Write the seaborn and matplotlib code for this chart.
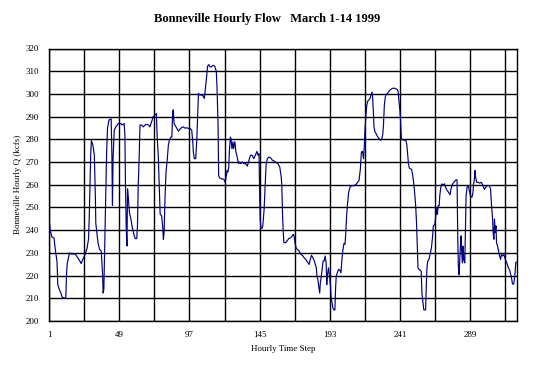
import numpy as np
import matplotlib
matplotlib.use("Agg")
import matplotlib.pyplot as plt
import seaborn as sns

# ---- data ----
title = "Bonneville Hourly Flow   March 1-14 1999"
x_label = "Hourly Time Step"
y_label = "Bonneville Hourly Q (kcfs)"

hours = [
    1, 2, 3, 4.5, 5, 6.5, 7, 8, 9, 10,
    12, 12.5, 13, 13.5, 15, 16, 19, 20, 22, 23,
    24, 25.5, 27, 28, 28.5, 29, 29.5, 30, 31, 32,
    32.7, 33, 34.5, 35.6, 36.7, 37.6, 38, 38.5, 39, 39.7,
    40.4, 41, 42, 43.5, 44, 44.4, 44.8, 45.6, 46.7, 48.5,
    50, 51, 52.4, 52.9, 53.3, 53.8, 54.3, 54.7, 55.2, 56,
    57, 58, 59.3, 60, 61, 61.5, 62, 62.7, 63.2, 64.3,
    65.5, 66.6, 67.8, 69, 70, 71.2, 72.3, 73.5, 74.4, 75,
    75.7, 76.4, 77, 78, 78.7, 79.2, 79.7, 80.3, 81, 81.9,
    82.6, 83.3, 84.4, 85, 85.6, 86, 86.5, 87.1, 88.3, 89.5,
    90.6, 91.7, 92.9, 94, 95.2, 96.3, 97.5, 98.6, 99.3, 99.7,
    100.4, 101.3, 102, 102.7, 103.2, 104, 106, 107.2, 108.8, 109.4,
    110.3, 111, 112, 113.2, 114.3, 115.4, 115.9, 116.6, 117, 117.7,
    118.8, 120.6, 121.4, 122.1, 122.8, 123.3, 123.9, 124.3, 125, 125.4,
    126.1, 126.8, 127.2, 128.1, 128.8, 129.4, 130.1, 130.8, 131.4, 132.1,
    133.2, 134.3, 135.4, 136.6, 137.7, 138.8, 139.9, 141, 142.1, 143.2,
    143.9, 144.6, 145, 145.4, 145.9, 146.6, 147.2, 148.1, 148.8, 149.4,
    150.3, 151.4, 152.6, 153.9, 155.4, 156.5, 157.5, 158.8, 159.8, 160.2,
    160.7, 161.2, 161.6, 162.8, 164, 165, 166.2, 167.4, 168, 168.5,
    169.2, 169.9, 170.8, 172, 173.2, 174.3, 175.5, 176.6, 177.8, 178.9,
    179.6, 180.5, 181.5, 182.4, 183.1, 183.8, 184.2, 184.9, 185.4, 186.1,
    186.5, 187.2, 187.9, 188.4, 189.1, 189.8, 190.5, 190.9, 191.4, 192.1,
    192.8, 193.5, 193.9, 194.4, 195.1, 195.8, 196.5, 196.9, 197.4, 198.1,
    199, 199.9, 200.6, 201.3, 202, 202.7, 203.4, 203.8, 204.5, 205.2,
    205.9, 206.8, 207.8, 209.6, 211, 212.1, 213, 213.9, 214.6, 215.3,
    216.1, 216.6, 217, 217.7, 218.3, 219, 219.9, 220.6, 221.2, 221.9,
    222.3, 222.8, 223.2, 223.9, 224.6, 225.4, 226.3, 227.2, 227.9, 228.6,
    229.2, 229.7, 230.3, 231, 231.7, 232.6, 233.4, 234.3, 235.2, 236.1,
    237.2, 238.3, 239, 239.7, 240.2, 241, 241.4, 241.9, 242.3, 243.9,
    245, 245.7, 246.3, 246.8, 247.4, 248.3, 249, 249.7, 250.3, 251,
    251.7, 252.3, 252.8, 253.3, 254, 254.9, 255.5, 256, 256.6, 257.3,
    258.5, 259.1, 259.5, 260, 260.8, 261.8, 262.5, 263.2, 263.8, 264.8,
    265.5, 266.2, 266.6, 267.1, 267.8, 268.2, 268.9, 269.6, 270.5, 271.5,
    272.4, 273.3, 274.2, 275.2, 275.9, 277, 278.2, 279.3, 280, 280.5,
    280.9, 281.4, 281.9, 282.3, 282.8, 283.2, 283.7, 284.2, 284.6, 285.3,
    285.8, 286.2, 286.9, 287.8, 288.6, 289.2, 290.2, 290.9, 291.3, 291.8,
    292.3, 292.7, 293.4, 294.3, 295.5, 296.6, 297.8, 298.7, 299.6, 300.6,
    302, 302.9, 303.6, 304.3, 304.7, 305.2, 305.6, 306.1, 306.6, 307,
    307.7, 308.4, 309.1, 309.8, 310.3, 311.2, 312.1, 313, 314, 315,
    316.1, 317.2, 317.9, 318.8, 319.5, 320.2, 321,
]

flow_kcfs = [
    244.5, 239.5, 237, 236.5, 233, 226, 216, 214, 212.5, 210.5,
    210, 210.5, 221, 225.5, 230, 229.5, 229.5, 228.5, 226.5, 225.3,
    227, 229, 232, 236, 245, 259.5, 273, 279.5, 277.5, 273,
    255, 243, 234.5, 231.5, 230.8, 221, 212.3, 214, 230, 250.8,
    274.4, 284.8, 288.5, 289, 273, 250.8, 271.5, 284, 285.5, 287,
    287, 286.3, 287, 281.8, 259.6, 241, 233, 258.2, 254.5, 247.8,
    244.9, 241, 237.5, 236.3, 236.3, 242, 259.6, 273, 286.3, 286.3,
    285.5, 286.3, 286.6, 286.3, 285.5, 287.8, 290, 290.7, 291.4, 280.4,
    273, 259.6, 247, 246.3, 241.9, 236, 239, 253.7, 265.6, 271.5,
    277.4, 279.6, 281, 281, 292.2, 293, 287, 286.3, 284.8, 283.6,
    284.5, 285.2, 285.5, 284.9, 285.1, 284.8, 284.8, 284, 278.9, 274.4,
    271.5, 271.5, 278.9, 292.2, 300.3, 299.5, 299.5, 298, 307.7, 312.2,
    312.9, 311.9, 311.9, 312.6, 312.2, 310, 302.5, 286.3, 264, 263,
    262.6, 262.4, 261.1, 263.3, 266.3, 265.6, 267.8, 274.4, 281, 280.4,
    275.9, 278.9, 275.9, 278.9, 274.4, 273, 270.7, 269.3, 270, 269.3,
    270, 269.3, 269.3, 268.2, 270.7, 273, 273, 271.5, 273, 274.7,
    273, 273.7, 257.4, 244.9, 241, 240.7, 241.9, 249.3, 259.6, 268.5,
    271.5, 272.2, 271.8, 270.7, 270.3, 269.7, 269.3, 267.8, 263.3, 259.6,
    246.3, 238.9, 234.5, 234.5, 235.5, 236.3, 236.7, 237.5, 238.2, 237.5,
    234.5, 232.3, 231.5, 230.8, 229.3, 228.9, 227.8, 227.1, 225.9, 224.9,
    227.1, 228.9, 227.8, 226.4, 224.9, 223.4, 219.7, 218.2, 215.3, 212.3,
    216.7, 219.7, 223.4, 226.4, 226.4, 228.6, 225.6, 216, 220.4, 223.4,
    219.7, 215.3, 210.1, 208.6, 205.7, 204.9, 204.9, 213.8, 219.7, 221.2,
    222.7, 222.4, 221.2, 227.1, 231.5, 234.2, 233.8, 237.5, 246.3, 252.2,
    256.7, 258.9, 259.6, 259.6, 260.2, 261.1, 261.9, 267, 274.4, 274.7,
    271.5, 277.4, 283.3, 290.7, 295.1, 296.9, 297.4, 298.1, 299.6, 300.8,
    298.1, 292.2, 285.5, 283.3, 282.6, 281.5, 280.6, 279.9, 279.6, 280.4,
    282.1, 286.3, 295.1, 298.8, 299.9, 300.3, 301.1, 301.8, 302.2, 302.5,
    302.5, 302.2, 302, 301.1, 297.4, 292.2, 287.8, 281, 279.9, 279.6,
    279.6, 277.4, 273, 269.3, 267.3, 267, 266.7, 264, 261.1, 256.7,
    250.8, 243.4, 233, 223.4, 222.7, 222.4, 221.9, 212.3, 208.6, 204.9,
    204.9, 218.2, 224, 226.4, 227.1, 230, 232.3, 236.7, 241.9, 242.6,
    246.3, 250, 247, 250.8, 250.8, 255.2, 258.9, 260.4, 259.9, 260.4,
    258.5, 257.4, 256.7, 255.6, 258.2, 260.4, 261.4, 262.2, 262.2, 236,
    224.1, 220.4, 227.1, 233, 237.5, 230, 225.6, 233, 227.1, 225.6,
    241, 255.2, 258.9, 259.6, 256.7, 255.2, 254.5, 256.7, 260.4, 261.9,
    266.3, 263.3, 261.1, 261.1, 260.7, 261.1, 259.6, 257.9, 258.9, 259.6,
    259.6, 258.2, 250.8, 244.9, 238.9, 236, 244.9, 238.9, 241.9, 234.5,
    233, 230.8, 228.6, 227.1, 229.3, 228.6, 229.3, 227.1, 225.6, 223.6,
    222.2, 219.2, 216.3, 216.3, 220, 225.8, 226,
]

x_ticks = [1, 25, 49, 73, 97, 121, 145, 169, 193, 217, 241, 265, 289, 313]
x_tick_labels = ["1", "", "49", "", "97", "", "145", "", "193", "", "241", "", "289", ""]
y_ticks = [200, 210, 220, 230, 240, 250, 260, 270, 280, 290, 300, 310, 320]

# ---- style ----
sns.set_theme(style="white")
plt.rcParams["font.family"] = ["Liberation Serif", "DejaVu Serif"]

W, H = 534, 365
fig = plt.figure(figsize=(W / 100, H / 100), dpi=100)
fig.patch.set_facecolor("white")

left, right, top, bottom = 49, 517, 48.5, 321
ax = fig.add_axes([left / W, 1 - bottom / H, (right - left) / W, (bottom - top) / H])
ax.set_facecolor("white")

sns.lineplot(x=hours, y=flow_kcfs, color="#000080", linewidth=0.85,
             estimator=None, sort=False, ax=ax, zorder=3)

ax.set_xlim(1, 321)
ax.set_ylim(200, 320)
ax.set_xticks(x_ticks)
ax.set_xticklabels(x_tick_labels)
ax.set_yticks(y_ticks)
ax.set_yticklabels([str(v) for v in y_ticks])

ax.grid(True, color="black", linewidth=1.0)
ax.set_axisbelow(True)
for s in ax.spines.values():
    s.set_visible(True)
    s.set_color("black")
    s.set_linewidth(1.0)

ax.tick_params(axis="both", which="both", direction="out", length=3.5, width=1.0,
               color="black", labelsize=6.5, labelcolor="black")
ax.tick_params(axis="x", pad=4)
ax.tick_params(axis="y", pad=4)
ax.set_xlabel("")
ax.set_ylabel("")

fig.text(0.5, 1 - 19 / H, title, ha="center", va="center",
         fontsize=9, fontweight="bold", color="black")
fig.text((left + right) / 2 / W, 1 - 349 / H, x_label, ha="center", va="center",
         fontsize=6.5, color="black")
fig.text(18 / W, 1 - (top + bottom) / 2 / H, y_label, ha="center", va="center",
         rotation=90, fontsize=6.5, color="black")

fig.savefig("out.png", dpi=100, facecolor="white")
